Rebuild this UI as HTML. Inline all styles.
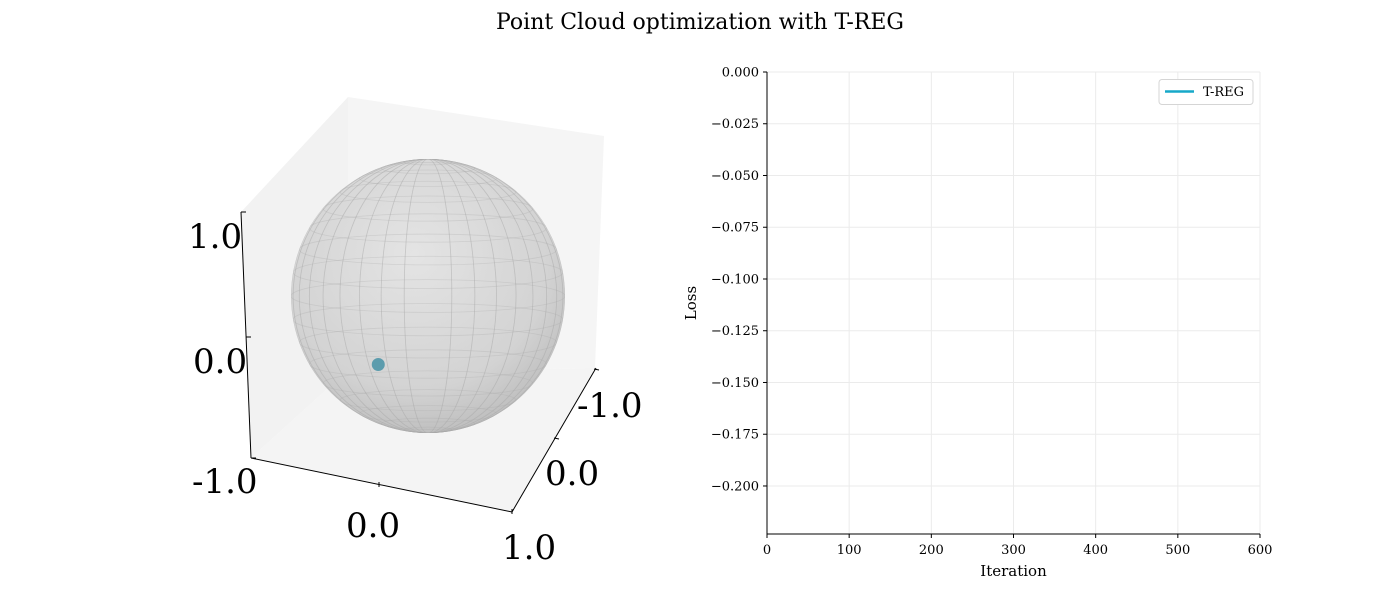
<!DOCTYPE html>
<html><head><meta charset="utf-8"><style>
body{margin:0;background:#fff;}
svg{display:block;font-family:"DejaVu Serif","Liberation Serif",serif;}
</style></head><body>
<svg width="1400" height="600" viewBox="0 0 1400 600">
<text x="700" y="29" text-anchor="middle" font-size="22" fill="#000">Point Cloud optimization with T-REG</text>
<g>
  <defs>
    <radialGradient id="sg" cx="0.45" cy="0.35" r="0.7">
      <stop offset="0" stop-color="#e4e4e4"/>
      <stop offset="0.7" stop-color="#d3d3d3"/>
      <stop offset="1" stop-color="#bababa"/>
    </radialGradient>
    <clipPath id="sc"><circle cx="428" cy="296" r="137"/></clipPath>
  </defs>
  <polygon points="241,212 348,97 348,370 251,458" fill="#f2f2f2"/>
  <polygon points="348,97 604,136 595,368 348,370" fill="#f5f5f5"/>
  <polygon points="251,458 348,370 595,368 512,512" fill="#f4f4f4"/>
  <circle cx="428" cy="296" r="137" fill="url(#sg)"/>
  <g clip-path="url(#sc)" stroke="#aaaaaa" stroke-opacity="0.3" fill="none" stroke-width="0.8" id="grid3d"></g>
  <g stroke="#000" stroke-width="1" fill="none">
    <line x1="241" y1="212" x2="251" y2="458"/>
    <line x1="251" y1="458" x2="512" y2="512"/>
    <line x1="512" y1="512" x2="596" y2="368"/>
    <line x1="241" y1="212" x2="246" y2="212"/><line x1="246" y1="337" x2="251" y2="337"/>
    <line x1="251" y1="458" x2="256" y2="458"/>
    <line x1="379" y1="482" x2="379" y2="487"/><line x1="512" y1="509" x2="512" y2="514"/>
    <line x1="554" y1="438" x2="559" y2="439"/><line x1="594" y1="369" x2="599" y2="370"/>
  </g>
  <g font-size="34" fill="#000">
    <text x="188" y="248">1.0</text>
    <text x="193" y="373">0.0</text>
    <text x="192" y="493">-1.0</text>
    <text x="346" y="537">0.0</text>
    <text x="502" y="559">1.0</text>
    <text x="545" y="485">0.0</text>
    <text x="577" y="417">-1.0</text>
  </g>
  <g id="pts"></g>
</g>
<g id="chart"></g>
</svg>
<script>
const xTicks=[0,100,200,300,400,500,600];
const yTicks=[0,-0.025,-0.05,-0.075,-0.1,-0.125,-0.15,-0.175,-0.2];
const yTickLabels=["0.000","\u22120.025","\u22120.050","\u22120.075","\u22120.100","\u22120.125","\u22120.150","\u22120.175","\u22120.200"];
const lossIter=[];
const lossVals=[];
const seriesName="T-REG";
const pointX=[-0.55];
const pointZ=[-0.5];
const NS="http://www.w3.org/2000/svg";
function mk(t,a,p){const e=document.createElementNS(NS,t);for(const k in a)e.setAttribute(k,a[k]);p.appendChild(e);return e;}
const X0=767,X1=1260,Y0=72,Ylow=534,yMin=-0.2232;
const xs=v=>X0+(v-0)/(600-0)*(X1-X0);
const ys=v=>Y0+(0-v)/(0-yMin)*(Ylow-Y0);
const ch=document.getElementById('chart');
xTicks.forEach(v=>{const l=mk('line',{x1:xs(v),x2:xs(v),y1:Y0,y2:Ylow,stroke:'#ebebeb','stroke-width':1},ch);


const t=mk('line',{x1:xs(v),x2:xs(v),y1:Ylow,y2:Ylow+4,stroke:'#000'},ch);


const tx=mk('text',{x:xs(v),y:Ylow+20,'text-anchor':'middle','font-size':13},ch);tx.textContent=v;

});
yTicks.forEach((v,i)=>{const l=mk('line',{x1:X0,x2:X1,y1:ys(v),y2:ys(v),stroke:'#ebebeb','stroke-width':1},ch);


const t=mk('line',{x1:X0-4,x2:X0,y1:ys(v),y2:ys(v),stroke:'#000'},ch);


const tx=mk('text',{x:X0-8,y:ys(v)+4.5,'text-anchor':'end','font-size':13},ch);tx.textContent=yTickLabels[i];

});
const ax=mk('path',{d:`M${X0},${Y0}V${Ylow}H${X1}`,stroke:'#000',fill:'none','stroke-width':1},ch);


if(lossIter.length){const ln=mk('polyline',{points:lossIter.map((x,i)=>xs(x)+','+ys(lossVals[i])).join(' '),fill:'none',stroke:'#17a8c9','stroke-width':2},ch);

}
const xl=mk('text',{x:(X0+X1)/2,y:576,'text-anchor':'middle','font-size':15},ch);xl.textContent='Iteration';


const yl=mk('text',{x:696,y:303,'text-anchor':'middle','font-size':15,transform:'rotate(-90 696 303)'},ch);yl.textContent='Loss';


const lg=mk('g',{},ch);


mk('rect',{x:1159,y:79.5,width:94,height:25,rx:3,fill:'#fff',stroke:'#d5d5d5'},lg);
mk('line',{x1:1165,x2:1194,y1:91.5,y2:91.5,stroke:'#17a8c9','stroke-width':2.5},lg);
const lt=mk('text',{x:1203,y:96,'font-size':13},lg);lt.textContent=seriesName;
const g=document.getElementById('grid3d');const cx=428,cy=296,R=137,tilt=0.12;
for(let k=-8;k<=8;k++){const lat=k*Math.PI/18;const yy=cy-R*Math.sin(lat)*Math.cos(tilt);const rr=R*Math.cos(lat);
mk('ellipse',{cx:cx,cy:yy,rx:rr,ry:rr*Math.sin(tilt)},g);}
for(let k=0;k<18;k++){const lon=k*Math.PI/18;const rx=Math.abs(R*Math.sin(lon));
mk('ellipse',{cx:cx,cy:cy,rx:rx,ry:R},g);}
const pg=document.getElementById('pts');
pointX.forEach((px,i)=>{const c=mk('circle',{cx:cx+px*R*0.66,cy:cy-pointZ[i]*R,r:6.5,fill:'#4f96a8','fill-opacity':0.9},pg);

});
</script>
</body></html>
